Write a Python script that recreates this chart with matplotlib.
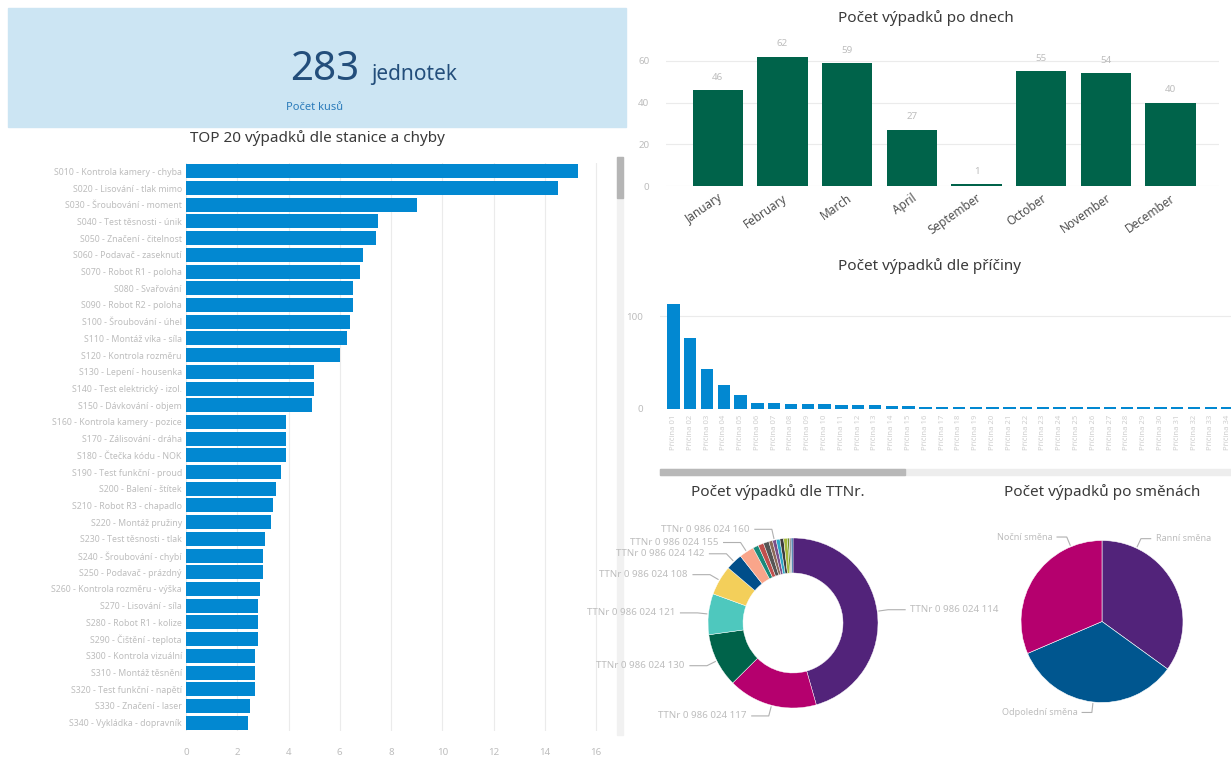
import matplotlib
matplotlib.use("Agg")
import matplotlib.pyplot as plt
import numpy as np
from matplotlib.patches import Rectangle

plt.rcParams['font.family'] = ['Noto Sans', 'DejaVu Sans']

W, H = 1231, 761

# KPI card
kpi_value = 283
kpi_unit = "jednotek"
kpi_label = "Počet kusů"

# TOP 20 výpadků dle stanice a chyby
station_labels = [
    "S010 - Kontrola kamery - chyba", "S020 - Lisování - tlak mimo", "S030 - Šroubování - moment",
    "S040 - Test těsnosti - únik", "S050 - Značení - čitelnost", "S060 - Podavač - zaseknutí",
    "S070 - Robot R1 - poloha", "S080 - Svařování", "S090 - Robot R2 - poloha",
    "S100 - Šroubování - úhel", "S110 - Montáž víka - síla", "S120 - Kontrola rozměru",
    "S130 - Lepení - housenka", "S140 - Test elektrický - izol.", "S150 - Dávkování - objem",
    "S160 - Kontrola kamery - pozice", "S170 - Zálisování - dráha", "S180 - Čtečka kódu - NOK",
    "S190 - Test funkční - proud", "S200 - Balení - štítek", "S210 - Robot R3 - chapadlo",
    "S220 - Montáž pružiny", "S230 - Test těsnosti - tlak", "S240 - Šroubování - chybí",
    "S250 - Podavač - prázdný", "S260 - Kontrola rozměru - výška", "S270 - Lisování - síla",
    "S280 - Robot R1 - kolize", "S290 - Čištění - teplota", "S300 - Kontrola vizuální",
    "S310 - Montáž těsnění", "S320 - Test funkční - napětí", "S330 - Značení - laser",
    "S340 - Vykládka - dopravník",
]
station_values = [15.3, 14.5, 9.0, 7.5, 7.4, 6.9, 6.8, 6.5, 6.5, 6.4, 6.3, 6.0,
                  5.0, 5.0, 4.9, 3.9, 3.9, 3.9, 3.7, 3.5, 3.4, 3.3, 3.1, 3.0,
                  3.0, 2.9, 2.8, 2.8, 2.8, 2.7, 2.7, 2.7, 2.5, 2.4]
station_ticks = [0, 2, 4, 6, 8, 10, 12, 14, 16]

# Počet výpadků po dnech
months = ["January", "February", "March", "April", "September", "October", "November", "December"]
month_values = [46, 62, 59, 27, 1, 55, 54, 40]
month_ticks = [0, 20, 40, 60]

# Počet výpadků dle příčiny (visible part of the scrolled chart)
cause_labels = ["Příčina %02d" % i for i in range(1, 35)]
cause_values = [113, 77, 43, 26, 15, 6, 6, 5, 5, 5, 4, 4, 4, 3, 3, 2, 2,
                2, 2, 2, 2, 2, 2, 2, 2, 2, 2, 2, 2, 2, 2, 2, 2, 2]
cause_ticks = [0, 100]

# Počet výpadků dle TTNr.
ttnr_labels = ["TTNr 0 986 024 114", "TTNr 0 986 024 117", "TTNr 0 986 024 130",
               "TTNr 0 986 024 121", "TTNr 0 986 024 108", "TTNr 0 986 024 142",
               "TTNr 0 986 024 155", None, None, None, None,
               "TTNr 0 986 024 160", None, None, None, None, None, None]
ttnr_values = [129, 48, 29, 22, 16, 9, 8, 3, 3, 3, 2, 2, 2, 2, 2, 1, 1, 1]
ttnr_colors = ["#52237a", "#b5006e", "#00634a", "#4ec8be", "#f3cf5a", "#004e8a",
               "#f9a58a", "#1a8a7a", "#c0504d", "#555555", "#8b6a5a", "#7a4f8a",
               "#2ea8c8", "#3c3c3c", "#a3b83c", "#6b8e23", "#9a9a9a", "#2f6aa0"]

# Počet výpadků po směnách
shift_labels = ["Ranní směna", "Odpolední směna", "Noční směna"]
shift_values = [99, 95, 89]
shift_colors = ["#52237a", "#00568f", "#b5006e"]

TITLE_C = "#3a3a3a"
FAINT = "#bdbdbd"
GRID = "#ebebeb"


def fx(px):
    return px / W


def fy(py):
    return 1 - py / H


def box(x0, y0, x1, y1):
    return [fx(x0), fy(y1), fx(x1) - fx(x0), fy(y0) - fy(y1)]


def clean(ax):
    for s in ax.spines.values():
        s.set_visible(False)
    ax.tick_params(length=0)


fig = plt.figure(figsize=(W / 100, H / 100), dpi=100)

# ---- KPI card
fig.add_artist(Rectangle((fx(8), fy(127)), fx(626) - fx(8), fy(8) - fy(127),
                         transform=fig.transFigure, color="#cce5f3", zorder=0))
fig.text(fx(359), fy(80), str(kpi_value), ha="right", va="baseline",
         fontsize=29, color="#234e7b")
fig.text(fx(371), fy(80), kpi_unit, ha="left", va="baseline",
         fontsize=15, color="#234e7b")
fig.text(fx(286), fy(107), kpi_label, ha="left", va="center",
         fontsize=8, color="#2b7bba")

# ---- TOP 20 horizontal bars
fig.text(fx(317), fy(138), "TOP 20 výpadků dle stanice a chyby", ha="center",
         va="center", fontsize=11, color=TITLE_C)
ax1 = fig.add_axes(box(186, 163, 600, 731))
pos = np.arange(len(station_values))
ax1.barh(pos, station_values, height=0.84, color="#0288d1")
ax1.set_ylim(len(station_values) - 0.5, -0.5)
ax1.set_xlim(0, 16.15)
ax1.set_xticks(station_ticks)
ax1.set_xticklabels([str(t) for t in station_ticks], fontsize=7, color=FAINT)
ax1.set_yticks(pos)
ax1.set_yticklabels(station_labels, fontsize=6.3, color=FAINT)
ax1.xaxis.grid(True, color=GRID, lw=0.8)
ax1.set_axisbelow(True)
clean(ax1)
ax1.tick_params(axis="x", pad=12)
ax1.tick_params(axis="y", pad=3)

# left chart scrollbar
fig.add_artist(Rectangle((fx(617), fy(735)), fx(623) - fx(617), fy(157) - fy(735),
                         transform=fig.transFigure, color="#f1f1f1", zorder=0))
fig.add_artist(Rectangle((fx(617), fy(198)), fx(623) - fx(617), fy(157) - fy(198),
                         transform=fig.transFigure, color="#b5b5b5", zorder=1))

# ---- Months column chart
fig.text(fx(926), fy(18), "Počet výpadků po dnech", ha="center", va="center",
         fontsize=11, color=TITLE_C)
ax2 = fig.add_axes(box(666, 40, 1219, 186))
xm = np.arange(len(months))
bars = ax2.bar(xm, month_values, width=0.78, color="#00634a")
ax2.bar_label(bars, labels=[str(v) for v in month_values], padding=6,
              fontsize=7, color=FAINT)
ax2.set_xlim(-0.8, 7.75)
ax2.set_ylim(0, 70)
ax2.set_yticks(month_ticks)
ax2.set_yticklabels([str(t) for t in month_ticks], fontsize=7, color=FAINT)
ax2.set_xticks(xm)
ax2.set_xticklabels(months, rotation=35, ha="right", rotation_mode="anchor",
                    fontsize=8.5, color="#505050")
ax2.yaxis.grid(True, color=GRID, lw=0.8)
ax2.set_axisbelow(True)
clean(ax2)
ax2.tick_params(axis="x", pad=4)
ax2.tick_params(axis="y", pad=12)

# ---- Causes column chart
fig.text(fx(930), fy(266), "Počet výpadků dle příčiny", ha="center", va="center",
         fontsize=11, color=TITLE_C)
ax3 = fig.add_axes(box(660, 295, 1231, 409))
xc = np.arange(len(cause_values))
ax3.bar(xc, cause_values, width=0.74, color="#0288d1")
ax3.set_xlim(-0.8, 33.2)
ax3.set_ylim(0, 123)
ax3.set_yticks(cause_ticks)
ax3.set_yticklabels([str(t) for t in cause_ticks], fontsize=7, color=FAINT)
ax3.set_xticks(xc)
ax3.set_xticklabels(cause_labels, rotation=90, fontsize=5.5, color="#cfcfcf")
ax3.yaxis.grid(True, color=GRID, lw=0.8)
ax3.set_axisbelow(True)
clean(ax3)
ax3.tick_params(axis="y", pad=12)
ax3.tick_params(axis="x", pad=4)

# causes scrollbar
fig.add_artist(Rectangle((fx(660), fy(475)), fx(1231) - fx(660), fy(469) - fy(475),
                         transform=fig.transFigure, color="#ededed", zorder=0))
fig.add_artist(Rectangle((fx(660), fy(475)), fx(905) - fx(660), fy(469) - fy(475),
                         transform=fig.transFigure, color="#b8b8b8", zorder=1))


def pie_labels(ax, wedges, labels, radius, fracs, gap, fontsize):
    for w, lab, f in zip(wedges, labels, fracs):
        if lab is None:
            continue
        ang = np.deg2rad(w.theta2 - f * (w.theta2 - w.theta1))
        c, s = np.cos(ang), np.sin(ang)
        x0, y0 = radius * 1.02 * c, radius * 1.02 * s
        x1, y1 = radius * 1.13 * c, radius * 1.13 * s
        sgn = 1 if c >= 0 else -1
        x2 = x1 + sgn * gap * radius
        ax.plot([x0, x1, x2], [y0, y1, y1], color="#b0b0b0", lw=0.8, clip_on=False)
        ax.text(x2 + sgn * 0.06 * radius, y1, lab, ha="left" if sgn > 0 else "right",
                va="center", fontsize=fontsize, color=FAINT, clip_on=False)


# ---- TTNr donut
fig.text(fx(778), fy(492), "Počet výpadků dle TTNr.", ha="center", va="center",
         fontsize=11, color=TITLE_C)
ax4 = fig.add_axes(box(673, 503, 913, 743))
R4 = 0.85
w4, _ = ax4.pie(ttnr_values, colors=ttnr_colors, radius=R4, startangle=90,
                counterclock=False, wedgeprops=dict(width=0.35, edgecolor="white", linewidth=0.3))
ax4.set_xlim(-1.2, 1.2)
ax4.set_ylim(-1.2, 1.2)
pie_labels(ax4, w4, ttnr_labels, R4, [0.5] * len(ttnr_values), 0.2, 7)

# ---- Shift pie
fig.text(fx(1102), fy(492), "Počet výpadků po směnách", ha="center", va="center",
         fontsize=11, color=TITLE_C)
ax5 = fig.add_axes(box(982, 501.5, 1222, 741.5))
R5 = 0.81
w5, _ = ax5.pie(shift_values, colors=shift_colors, radius=R5, startangle=90,
                counterclock=False, wedgeprops=dict(edgecolor="white", linewidth=0.4))
ax5.set_xlim(-1.2, 1.2)
ax5.set_ylim(-1.2, 1.2)
pie_labels(ax5, w5, shift_labels, R5, [0.2, 0.5, 0.8], 0.12, 6.5)

fig.savefig("out.png", dpi=100)
